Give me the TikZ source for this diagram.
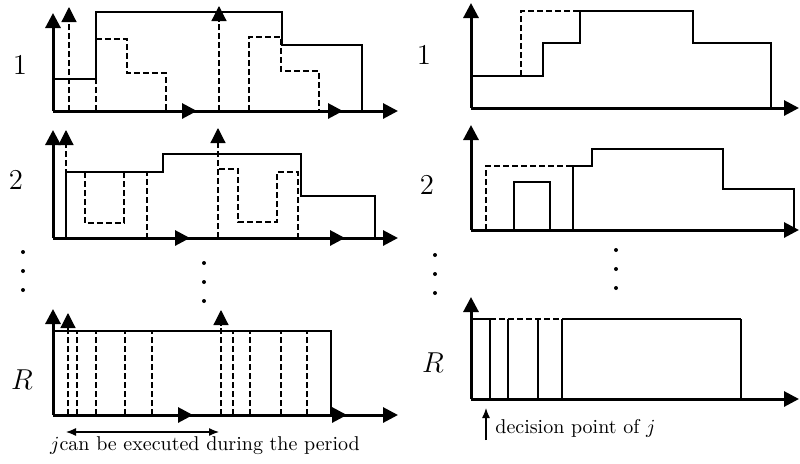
\documentclass[tikz,border=0pt]{standalone}
\usetikzlibrary{arrows.meta}

\begin{document}
\begin{tikzpicture}[
  x=0.5pt, y=0.5pt,
  axisarr/.style = {-{Triangle[length=7.5pt,width=7.5pt]}, line width=1.5pt},
  axisln/.style  = {line width=1.5pt},
  relarr/.style  = {-{Triangle[length=7.5pt,width=7.5pt]}, line width=0.6pt,
                    dash pattern=on 2.8pt off 1.7pt},
  jobline/.style = {line width=0.6pt},
  jobdash/.style = {line width=0.6pt, dash pattern=on 2.8pt off 1.7pt},
  rowlbl/.style  = {font=\Large, inner sep=0pt},
  note/.style    = {font=\normalsize, inner sep=0pt},
]
\useasboundingbox (0,0) rectangle (800,463);

%% Left column, resource 1
\begin{scope}[shift={(53,352)}]
  \draw[jobline] (0,32) -- (43,32) -- (43,99) -- (229,99) -- (229,66) -- (309,66) -- (309,0);
  \draw[jobdash] (43,0) -- (43,72) -- (74,72) -- (74,38) -- (113,38) -- (113,0);
  \draw[jobdash] (196,0) -- (196,74) -- (228,74) -- (228,40) -- (266,40) -- (266,0);
  \draw[relarr] (16,0) -- (16,104);
  \draw[relarr] (166,0) -- (166,105);
  \draw[axisarr] (0,0) -- (0,98);
  \draw[axisln] (0,0) -- (330,0);
  \foreach \t in {144,290,345}
    \draw[axisarr] (0,0) -- (\t,0);
\end{scope}

%% Left column, resource 2
\begin{scope}[shift={(53,225)}]
  \draw[jobline] (13,0) -- (13,66) -- (110,66) -- (110,84) -- (248,84) -- (248,42) -- (322,42) -- (322,0);
  \draw[jobdash] (32,66) -- (32,15) -- (71,15) -- (71,66) -- (94,66) -- (94,0);
  \draw[jobdash] (166,69) -- (185,69) -- (185,16) -- (224,16) -- (224,66) -- (245,66) -- (245,0);
  \draw[relarr] (13,0) -- (13,108);
  \draw[relarr] (165,0) -- (165,110);
  \draw[axisarr] (0,0) -- (0,108);
  \draw[axisln] (0,0) -- (330,0);
  \foreach \t in {137,292,345}
    \draw[axisarr] (0,0) -- (\t,0);
\end{scope}

%% Left column, resource R
\begin{scope}[shift={(53,48)}]
  \draw[jobline] (0,84) -- (278,84) -- (278,0);
  \foreach \x in {15,24,43,72,99,168,180,197,228,254}
    \draw[jobdash] (\x,0) -- (\x,84);
  \draw[relarr] (15,0) -- (15,102);
  \draw[relarr] (168,0) -- (168,105);
  \draw[axisarr] (0,0) -- (0,106);
  \draw[axisln] (0,0) -- (330,0);
  \foreach \t in {140,294,345}
    \draw[axisarr] (0,0) -- (\t,0);
  \coordinate (pA) at (13,-17);
  \coordinate (pB) at (166,-17);
  \draw[{Latex[length=5pt,width=4pt]}-{Latex[length=5pt,width=4pt]}, line width=0.6pt] (pA) -- (pB);
  \node[note] (period) at (152,-31) {$j$can be executed during the period};
\end{scope}

%% Right column, resource 1
\begin{scope}[shift={(471,355)}]
  \draw[jobdash] (50,32) -- (50,97) -- (109,97);
  \draw[jobline] (0,32) -- (72,32) -- (72,65) -- (109,65) -- (109,97) -- (222,97) -- (222,65) -- (300,65) -- (300,0);
  \draw[axisarr] (0,0) -- (0,105);
  \draw[axisarr] (0,0) -- (328,0);
\end{scope}

%% Right column, resource 2
\begin{scope}[shift={(471,233)}]
  \draw[jobdash] (15,0) -- (15,64) -- (102,64);
  \draw[jobline] (43,0) -- (43,48) -- (79,48) -- (79,0);
  \draw[jobline] (102,0) -- (102,64) -- (121,64) -- (121,81) -- (252,81) -- (252,41) -- (323,41) -- (323,0);
  \draw[axisarr] (0,0) -- (0,105);
  \draw[axisarr] (0,0) -- (328,0);
\end{scope}

%% Right column, resource R
\begin{scope}[shift={(471,64)}]
  \foreach \x in {19,37,67,91,270}
    \draw[jobline] (\x,0) -- (\x,80);
  \draw[jobline] (0,80) -- (19,80);
  \draw[jobdash] (19,80) -- (91,80);
  \draw[jobline] (91,80) -- (270,80);
  \draw[axisarr] (0,0) -- (0,102);
  \draw[axisarr] (0,0) -- (328,0);
  \coordinate (dpt) at (15,-41);
  \node[note, anchor=west] (dlbl) at (24,-29) {decision point of $j$};
  \draw[-{Latex[length=5pt,width=4pt]}, line width=0.6pt] (dpt) -- (15,-9);
\end{scope}

%% Row labels
\node[rowlbl] (l1) at (20,398) {$1$};
\node[rowlbl] (l2) at (16,283) {$2$};
\node[rowlbl] (lR) at (22,83)  {$R$};
\node[rowlbl] (r1) at (424,408) {$1$};
\node[rowlbl] (r2) at (427,278) {$2$};
\node[rowlbl] (rR) at (433,100) {$R$};

%% Vertical ellipses
\foreach \x/\y in {23/211, 23/192, 23/173, 204/200, 204/181, 204/162,
                   435/208, 435/189, 435/170, 616/213, 616/194, 616/175}
  \fill (\x,\y) circle (2);

\end{tikzpicture}
\end{document}
